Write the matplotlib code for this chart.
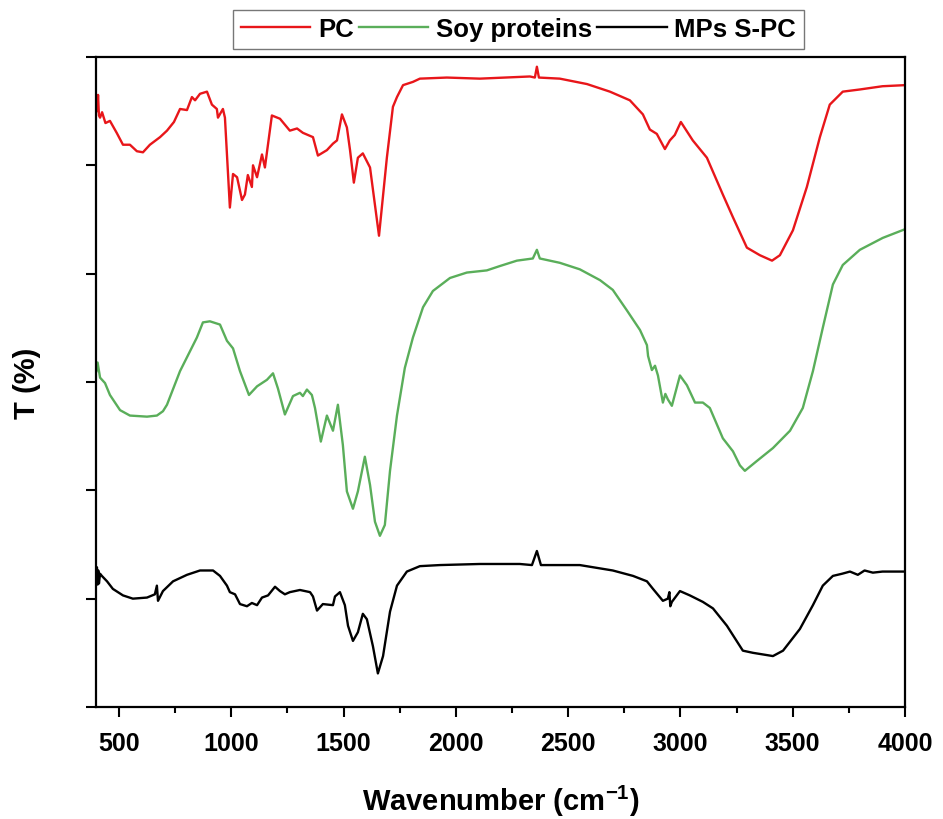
import matplotlib
matplotlib.use("Agg")
import matplotlib.pyplot as plt
from matplotlib.ticker import MultipleLocator

# FTIR spectra (wavenumber in cm-1, transmittance in arbitrary offset units)
pc_wn = [400, 404, 407, 411, 416, 425, 440, 460, 490, 518, 549, 580, 607, 638, 683, 714, 745, 772,
         803, 825, 839, 861, 892, 914, 936, 941, 963, 972, 994, 1008, 1026, 1048, 1061, 1074, 1092,
         1097, 1115, 1137, 1150, 1181, 1217, 1261, 1293, 1319, 1364, 1386, 1426, 1453, 1471, 1493,
         1515, 1529, 1546, 1564, 1586, 1618, 1658, 1693, 1720, 1738, 1765, 1809, 1840, 1960, 2107,
         2330, 2352, 2361, 2370, 2463, 2584, 2686, 2775, 2833, 2864, 2895, 2931, 2953, 2975, 3002,
         3055, 3118, 3189, 3234, 3296, 3354, 3408, 3443, 3501, 3563, 3621, 3665, 3723, 3799, 3900, 4000]
pc_t = [56.3, 55.0, 56.5, 54.6, 54.4, 54.9, 53.9, 54.1, 53.0, 51.9, 51.9, 51.3, 51.2, 51.9, 52.6, 53.2,
        54.0, 55.2, 55.1, 56.3, 56.0, 56.6, 56.8, 55.6, 55.2, 54.4, 55.2, 54.4, 46.1, 49.2, 48.9, 46.8,
        47.3, 49.1, 48.0, 50.0, 48.9, 51.0, 49.8, 54.6, 54.3, 53.2, 53.4, 53.0, 52.6, 50.9, 51.4, 52.0,
        52.3, 54.7, 53.5, 51.4, 48.4, 50.7, 51.1, 49.8, 43.5, 50.7, 55.4, 56.3, 57.4, 57.7, 58.0, 58.1,
        58.0, 58.2, 58.1, 59.1, 58.1, 58.0, 57.5, 56.8, 56.0, 54.7, 53.3, 52.9, 51.5, 52.3, 52.8, 54.0,
        52.3, 50.7, 47.3, 45.2, 42.4, 41.7, 41.2, 41.7, 44.0, 48.0, 52.6, 55.6, 56.8, 57.0, 57.3, 57.4]

soy_wn = [400, 405, 416, 438, 460, 505, 549, 625, 669, 696, 714, 772, 847, 874, 905, 950, 981, 1008,
          1039, 1079, 1115, 1137, 1159, 1186, 1208, 1239, 1275, 1306, 1319, 1337, 1359, 1373, 1399,
          1426, 1453, 1475, 1497, 1515, 1542, 1564, 1595, 1618, 1640, 1662, 1684, 1707, 1738, 1773,
          1809, 1854, 1898, 1974, 2049, 2138, 2196, 2272, 2343, 2361, 2374, 2463, 2552, 2642, 2699,
          2762, 2820, 2851, 2856, 2873, 2887, 2900, 2922, 2933, 2944, 2962, 2998, 3029, 3065, 3100,
          3131, 3189, 3234, 3265, 3287, 3340, 3412, 3488, 3545, 3590, 3634, 3679, 3723, 3799, 3901, 4000]
soy_t = [31.0, 31.8, 30.4, 29.9, 28.8, 27.4, 26.9, 26.8, 26.9, 27.3, 27.9, 31.0, 34.1, 35.5, 35.6,
         35.3, 33.8, 33.1, 31.0, 28.8, 29.6, 29.9, 30.2, 30.8, 29.4, 27.0, 28.7, 29.0, 28.7, 29.3, 28.8,
         27.6, 24.5, 26.9, 25.5, 27.9, 24.2, 19.9, 18.3, 19.9, 23.1, 20.5, 17.1, 15.8, 16.8, 21.8, 26.9,
         31.3, 34.1, 36.9, 38.4, 39.6, 40.1, 40.3, 40.7, 41.2, 41.4, 42.2, 41.4, 41.0, 40.4, 39.4, 38.5,
         36.6, 34.8, 33.4, 32.4, 31.1, 31.5, 30.6, 28.1, 28.9, 28.4, 27.8, 30.6, 29.7, 28.1, 28.1, 27.6,
         24.8, 23.6, 22.3, 21.8, 22.7, 23.9, 25.5, 27.6, 31.0, 35.0, 39.0, 40.8, 42.2, 43.3, 44.1]

mps_wn = [400, 402, 405, 408, 411, 416, 424, 447, 473, 518, 562, 625, 660, 669, 674, 696, 741, 803,
          861, 919, 950, 981, 994, 1017, 1039, 1070, 1092, 1115, 1137, 1164, 1195, 1217, 1239, 1261,
          1306, 1351, 1364, 1382, 1408, 1453, 1462, 1484, 1506, 1520, 1542, 1564, 1586, 1604, 1631,
          1653, 1676, 1707, 1738, 1782, 1840, 1929, 2107, 2285, 2339, 2361, 2379, 2552, 2699, 2789,
          2851, 2878, 2922, 2944, 2951, 2955, 2962, 2998, 3042, 3100, 3145, 3207, 3278, 3323, 3412,
          3457, 3532, 3590, 3634, 3679, 3720, 3755, 3790, 3820, 3857, 3900, 3950, 4000]
mps_t = [12.0, 12.9, 11.3, 12.6, 11.4, 12.3, 12.1, 11.6, 10.9, 10.3, 10.0, 10.1, 10.4, 11.2, 9.8, 10.7,
         11.6, 12.2, 12.6, 12.6, 12.1, 11.2, 10.6, 10.4, 9.5, 9.3, 9.6, 9.4, 10.1, 10.3, 11.1, 10.7,
         10.4, 10.6, 10.8, 10.6, 10.2, 8.9, 9.5, 9.4, 10.2, 10.6, 9.4, 7.5, 6.1, 6.9, 8.6, 8.1, 5.6,
         3.1, 4.7, 8.8, 11.2, 12.5, 13.0, 13.1, 13.2, 13.2, 13.1, 14.4, 13.1, 13.1, 12.6, 12.1, 11.6,
         10.9, 9.8, 10.0, 10.6, 9.3, 9.7, 10.7, 10.3, 9.7, 9.1, 7.5, 5.2, 5.0, 4.7, 5.2, 7.2, 9.4, 11.2,
         12.1, 12.3, 12.5, 12.2, 12.6, 12.4, 12.5, 12.5, 12.5]

series = [
    ("PC", pc_wn, pc_t, "#e8161a"),
    ("Soy proteins", soy_wn, soy_t, "#5aae5a"),
    ("MPs S-PC", mps_wn, mps_t, "black"),
]

plt.rcParams["font.family"] = ["Liberation Sans", "DejaVu Sans"]
plt.rcParams["font.weight"] = "bold"
plt.rcParams["mathtext.fontset"] = "custom"
plt.rcParams["mathtext.rm"] = "Liberation Sans:bold"
plt.rcParams["mathtext.bf"] = "Liberation Sans:bold"
plt.rcParams["mathtext.default"] = "bf"

fig = plt.figure(figsize=(9.43, 8.2), dpi=100)
ax = fig.add_axes([0.1023, 0.1366, 0.8574, 0.7927])

for name, wn, t, col in series:
    ax.plot(wn, t, color=col, lw=1.7, label=name)

ax.set_xlim(400, 4000)
ax.set_ylim(0, 60)
ax.xaxis.set_major_locator(MultipleLocator(500))
ax.xaxis.set_minor_locator(MultipleLocator(250))
ax.yaxis.set_major_locator(MultipleLocator(10))
ax.set_yticklabels([])
ax.tick_params(axis="both", which="major", direction="out", length=7, width=1.5, labelsize=18, pad=10)
ax.tick_params(axis="x", which="minor", direction="out", length=4, width=1.5)
for lab in ax.get_xticklabels():
    lab.set_fontweight("bold")
for sp in ax.spines.values():
    sp.set_linewidth(1.6)

ax.set_xlabel("Wavenumber (cm$^{-1}$)", fontsize=21, fontweight="bold", labelpad=20)
ax.set_ylabel("T (%)", fontsize=21, fontweight="bold")
ax.yaxis.set_label_coords(-0.068, 0.5)

leg = ax.legend(loc="lower center", bbox_to_anchor=(0.522, 1.012), ncol=3, frameon=True,
                fancybox=False, edgecolor="#555555", handlelength=2.7, handletextpad=0.3,
                columnspacing=0.2, borderpad=0.3, borderaxespad=0,
                prop={"weight": "bold", "size": 18.5})
leg.get_frame().set_linewidth(1.0)

fig.savefig("out.png", dpi=100)
